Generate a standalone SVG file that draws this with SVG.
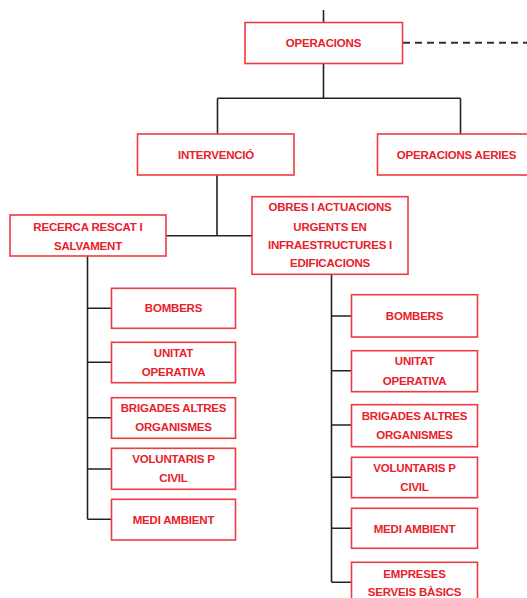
<svg xmlns="http://www.w3.org/2000/svg" width="527" height="598" viewBox="0 0 527 598">
<style>
.box{fill:#fff;stroke:#ee3a40;stroke-width:1.6}
.t{font-family:"Liberation Sans",Arial,sans-serif;font-weight:bold;font-size:11.5px;fill:#e8202a;text-anchor:middle;letter-spacing:-0.2px}
.ln{stroke:#222;stroke-width:1.6;fill:none}
.dash{stroke:#333;stroke-width:2;stroke-dasharray:7,5;fill:none}
</style>
<rect width="527" height="598" fill="#fff"/>
<g id="connectors">
<path class="ln" d="M323.5 10V22.5"/>
<path class="dash" d="M403 42.7H527"/>
<path class="ln" d="M323.5 63.5V98.3M217.5 98.3H460.5M217.5 98.3V134M460.5 98.3V134"/>
<path class="ln" d="M217 175V235.7M166 235.7H252"/>
<path class="ln" d="M87.5 256V519.3M87.5 308.3H111.5M87.5 362.3H111.5M87.5 417.7H111.5M87.5 469H111.5M87.5 519.3H111.5"/>
<path class="ln" d="M331.5 274.5V582.3M331.5 316H351.5M331.5 370.7H351.5M331.5 425H351.5M331.5 477.3H351.5M331.5 528.3H351.5M331.5 582.3H351.5"/>
</g>
<g id="operacions"><rect class="box" x="245" y="22.5" width="157.5" height="41"/><text class="t" x="323.5" y="47">OPERACIONS</text></g>
<g id="intervencio"><rect class="box" x="137.5" y="134" width="156.5" height="41"/><text class="t" x="216" y="158.5">INTERVENCIÓ</text></g>
<g id="operacions-aeries"><rect class="box" x="377.5" y="134" width="163" height="41"/><text class="t" x="456.5" y="158.5">OPERACIONS AERIES</text></g>
<g id="recerca"><rect class="box" x="10" y="215" width="156" height="41"/><text class="t" x="88" y="230.5">RECERCA RESCAT I</text><text class="t" x="88" y="249.5">SALVAMENT</text></g>
<g id="obres"><rect class="box" x="252" y="196.7" width="156" height="77.6"/><text class="t" x="330" y="211.3">OBRES I ACTUACIONS</text><text class="t" x="330" y="230.5">URGENTS EN</text><text class="t" x="330" y="249">INFRAESTRUCTURES I</text><text class="t" x="330" y="267.3">EDIFICACIONS</text></g>
<g id="l-bombers"><rect class="box" x="111.5" y="288.3" width="124" height="40"/><text class="t" x="173.5" y="312.3">BOMBERS</text></g>
<g id="l-unitat"><rect class="box" x="111.5" y="342.3" width="124" height="40.4"/><text class="t" x="173.5" y="356.7">UNITAT</text><text class="t" x="173.5" y="376.3">OPERATIVA</text></g>
<g id="l-brigades"><rect class="box" x="111.5" y="397.7" width="124" height="40.6"/><text class="t" x="173.5" y="411.5">BRIGADES ALTRES</text><text class="t" x="173.5" y="431">ORGANISMES</text></g>
<g id="l-voluntaris"><rect class="box" x="111.5" y="448.3" width="124" height="41"/><text class="t" x="173.5" y="462.5">VOLUNTARIS P</text><text class="t" x="173.5" y="482">CIVIL</text></g>
<g id="l-medi"><rect class="box" x="111.5" y="499.3" width="124" height="40.7"/><text class="t" x="173.5" y="523.5">MEDI AMBIENT</text></g>
<g id="r-bombers"><rect class="box" x="351.5" y="294.7" width="126" height="42.3"/><text class="t" x="414.5" y="320">BOMBERS</text></g>
<g id="r-unitat"><rect class="box" x="351.5" y="350.7" width="126" height="41"/><text class="t" x="414.5" y="365">UNITAT</text><text class="t" x="414.5" y="384.5">OPERATIVA</text></g>
<g id="r-brigades"><rect class="box" x="351.5" y="404.7" width="126" height="42"/><text class="t" x="414.5" y="419.5">BRIGADES ALTRES</text><text class="t" x="414.5" y="439">ORGANISMES</text></g>
<g id="r-voluntaris"><rect class="box" x="351.5" y="457.3" width="126" height="40.4"/><text class="t" x="414.5" y="471.5">VOLUNTARIS P</text><text class="t" x="414.5" y="491">CIVIL</text></g>
<g id="r-medi"><rect class="box" x="351.5" y="508.3" width="126" height="40"/><text class="t" x="414.5" y="532.5">MEDI AMBIENT</text></g>
<g id="r-empreses"><rect class="box" x="351.5" y="562.3" width="126" height="45"/><text class="t" x="414.5" y="577.5">EMPRESES</text><text class="t" x="414.5" y="596">SERVEIS BÀSICS</text></g>
</svg>
